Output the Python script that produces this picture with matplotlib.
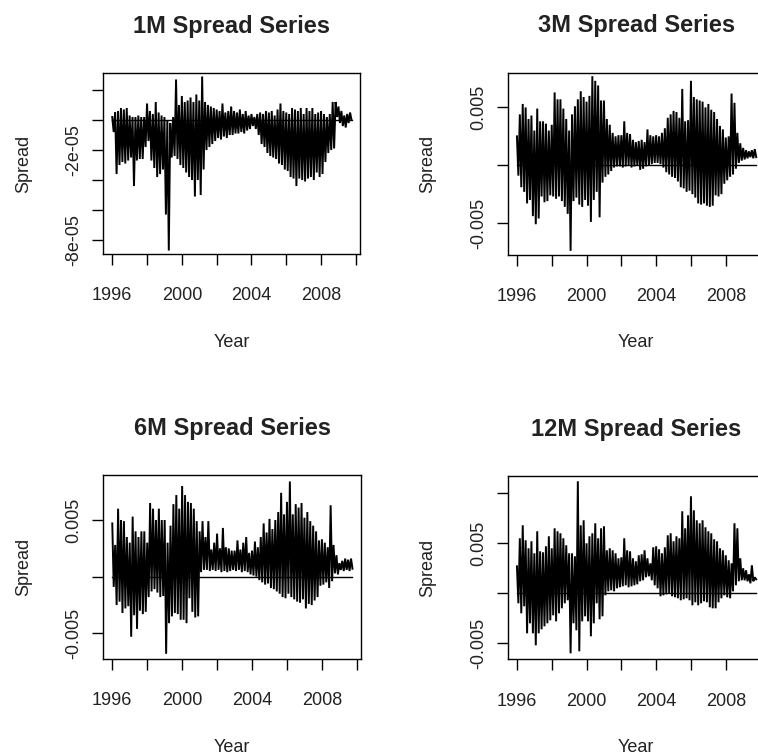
import numpy as np
import matplotlib.pyplot as plt

plt.rcParams['font.family'] = ['Liberation Sans', 'DejaVu Sans']
ink = '#222222'

# Spread series read off the picture as a bi-monthly envelope
# (high / low of each two-month block), Jan 1996 .. Sep 2009
start_year = 1996
year_ticks = [1996, 1998, 2000, 2002, 2004, 2006, 2008, 2010]
year_labels = ['1996', '', '2000', '', '2004', '', '2008', '']

# 1M, in units of 1e-05
hi_1m = [0.2, 0.5, 0.6, 0.8, 0.7, 0.8,
         0.3, 0.2, 0.2, 0.3, 0.2, 0.2,
         1.1, 0.6, 0.4, 1.2, 0.5, 0.3,
         0.2, 0.0, -0.2, 0.2, 2.7, 1.0,
         1.6, 1.2, 1.3, 1.5, 1.2, 1.7,
         1.3, 2.9, 1.2, 1.0, 0.9, 0.8,
         0.7, 0.6, 1.1, 0.5, 0.6, 0.9,
         0.6, 0.5, 0.7, 0.4, 0.6, 0.3,
         0.4, 0.2, 0.4, 0.5, 0.4, 0.6,
         0.5, 0.6, 0.3, 0.7, 1.1, 0.6,
         0.5, 0.4, 0.8, 0.7, 0.6, 0.8,
         0.4, 0.8, 0.6, 0.8, 0.4, 0.5,
         0.6, 0.4, 0.2, 0.4, 1.2, 1.2,
         0.9, 0.6, 0.3, 0.4, 0.5]
lo_1m = [-0.8, -3.6, -3.0, -2.8, -2.9, -2.7,
         -2.5, -4.4, -2.7, -2.6, -2.6, -1.8,
         -1.4, -2.7, -3.2, -3.8, -3.6, -3.3,
         -6.3, -8.7, -2.5, -2.4, -2.6, -3.0,
         -3.2, -3.5, -3.8, -4.0, -5.1, -4.0,
         -5.0, -3.3, -2.0, -1.8, -1.6, -1.4,
         -1.2, -1.3, -1.1, -1.2, -1.0, -1.0,
         -0.9, -0.9, -0.8, -0.9, -0.7, -0.6,
         -0.4, -0.6, -1.0, -1.6, -1.8, -2.2,
         -2.4, -2.5, -2.6, -2.9, -3.0, -3.3,
         -3.4, -3.8, -3.9, -4.4, -3.9, -4.0,
         -4.1, -3.9, -3.8, -4.0, -3.5, -3.8,
         -3.6, -2.8, -2.2, -2.0, -1.9, 0.2,
         -0.2, -0.4, -0.5, -0.2, 0.0]

# 3M, in units of 1e-03
hi_3m = [2.5, 4.4, 5.3, 5.0, 4.0, 4.3,
         3.0, 4.9, 3.8, 3.8, 3.6, 3.0,
         3.5, 6.3, 5.7, 5.7, 4.9, 4.0,
         3.0, 4.4, 5.1, 5.7, 6.4, 5.9,
         5.5, 6.0, 7.7, 7.3, 6.9, 5.6,
         5.6, 4.0, 3.5, 2.8, 2.5, 2.6,
         2.6, 3.8, 2.8, 2.7, 2.2, 2.0,
         2.1, 2.2, 2.0, 3.1, 2.6, 2.5,
         2.6, 2.5, 2.8, 3.2, 4.1, 4.4,
         4.7, 4.6, 4.1, 6.6, 3.8, 3.9,
         7.3, 5.9, 5.7, 5.6, 5.5, 5.0,
         5.3, 4.8, 4.6, 4.0, 3.4, 3.1,
         2.4, 2.5, 6.2, 5.4, 2.8, 1.9,
         1.5, 1.3, 1.2, 1.3, 1.4]
lo_3m = [-0.9, -1.9, -2.3, -3.3, -3.0, -4.4,
         -5.1, -4.6, -2.7, -3.2, -3.1, -2.6,
         -2.7, -2.9, -2.7, -3.1, -3.6, -4.2,
         -7.4, -3.1, -2.8, -3.4, -3.6, -3.0,
         -3.5, -4.9, -3.0, -2.3, -4.5, -1.5,
         -1.0, -0.8, -0.5, -0.2, -0.1, -0.1,
         -0.2, -0.1, 0.0, -0.2, -0.1, 0.0,
         -0.4, -0.3, -0.1, 0.0, 0.1, 0.2,
         0.2, 0.1, -0.2, -0.6, -0.8, -1.0,
         -1.1, -1.4, -1.9, -2.0, -2.3, -2.2,
         -2.5, -2.8, -3.3, -3.4, -3.3, -3.5,
         -3.6, -3.5, -2.6, -2.7, -2.5, -1.6,
         -1.3, -1.0, -0.8, -0.3, 0.2, 0.4,
         0.5, 0.6, 0.7, 0.6, 0.7]

# 6M, in units of 1e-03
hi_6m = [4.7, 2.8, 6.0, 5.0, 4.9, 3.5,
         3.0, 5.3, 4.0, 3.5, 4.0, 4.0,
         3.0, 6.5, 6.0, 5.0, 6.0, 5.0,
         5.0, 3.0, 4.5, 6.4, 7.2, 6.0,
         8.0, 7.2, 6.6, 6.5, 6.0, 4.9,
         4.0, 4.9, 3.5, 4.9, 2.4, 3.0,
         3.8, 2.5, 4.3, 2.6, 2.5, 2.3,
         2.3, 3.2, 2.4, 3.0, 3.5, 2.1,
         2.3, 3.1, 2.6, 3.5, 4.7, 3.9,
         5.1, 4.2, 5.0, 5.7, 7.4, 5.5,
         6.6, 8.4, 5.5, 6.4, 6.1, 6.5,
         5.2, 5.7, 4.9, 4.5, 4.0, 3.2,
         3.3, 3.0, 2.6, 6.3, 2.8, 1.9,
         1.2, 1.4, 1.6, 1.5, 1.6]
lo_6m = [-0.9, -2.5, -2.2, -3.2, -2.8, -2.6,
         -5.3, -3.4, -4.6, -3.0, -3.3, -3.1,
         -1.8, -1.3, -1.1, -1.4, -1.8, -1.7,
         -6.8, -4.1, -3.5, -3.2, -3.3, -3.8,
         -3.8, -4.1, -1.9, -3.1, -3.6, -3.5,
         0.4, 0.6, 0.6, 0.5, 0.6, 0.5,
         0.6, 0.4, 0.5, 0.4, 0.5, 0.6,
         0.5, 0.6, 0.4, 0.5, 0.4, 0.2,
         0.1, 0.0, -0.3, -0.5, -0.7, -0.6,
         -1.0, -1.1, -1.3, -1.5, -1.8, -1.9,
         -1.5, -1.8, -2.0, -2.2, -2.3, -2.0,
         -2.8, -2.4, -2.5, -2.1, -1.8, -0.8,
         -0.7, -0.5, -1.0, -0.4, 0.3, 0.2,
         0.6, 0.5, 0.6, 0.5, 0.7]

# 12M, in units of 1e-03
hi_12m = [2.7, 5.5, 6.8, 5.3, 4.5, 5.2,
          4.0, 6.2, 4.2, 4.1, 4.7, 5.7,
          4.5, 6.5, 6.2, 6.0, 5.5, 4.8,
          4.0, 4.0, 3.7, 11.2, 6.8, 7.3,
          5.0, 5.7, 6.0, 7.0, 5.5, 6.5,
          6.7, 4.3, 4.5, 4.3, 4.0, 3.5,
          3.6, 5.5, 4.3, 4.2, 3.5, 3.2,
          3.8, 3.9, 4.3, 3.5, 3.0, 4.6,
          4.7, 4.4, 4.0, 4.6, 5.8, 6.0,
          5.2, 5.7, 5.5, 8.2, 6.5, 7.8,
          9.7, 8.3, 7.3, 7.0, 7.3, 6.6,
          6.2, 6.0, 5.4, 5.2, 4.5, 4.3,
          3.8, 3.3, 3.0, 7.0, 6.5, 3.5,
          2.5, 2.3, 1.9, 2.8, 1.6]
lo_12m = [-1.0, -2.0, -1.3, -4.0, -3.0, -4.0,
          -5.2, -4.0, -3.6, -3.3, -3.0, -2.7,
          -2.2, -2.8, -2.0, -1.5, -1.0, -0.7,
          -6.0, -3.0, -3.7, -5.8, -2.8, -2.3,
          -2.8, -4.3, -3.0, -1.0, -2.6, -2.3,
          -0.2, 0.2, 0.3, 0.2, 0.5, 0.6,
          0.7, 0.8, 0.6, 0.7, 0.8, 0.9,
          1.2, 1.3, 1.6, 1.7, 1.3, 0.8,
          0.5, -0.3, -0.2, -0.1, 0.0, -0.3,
          -0.4, -0.5, -0.7, -0.6, -0.5, -0.7,
          -1.2, -0.9, -1.2, -1.0, -0.8, -0.9,
          -1.4, -1.5, -1.5, -0.9, -0.5, -0.2,
          -0.4, -0.5, 0.2, 0.8, 1.2, 1.3,
          1.3, 1.2, 1.0, 1.2, 1.4]


def draw_panel(ax, hi, lo, scale, title, ylim, yticks, ylabels):
    hi = np.asarray(hi) * scale
    lo = np.asarray(lo) * scale
    t = start_year + np.arange(len(hi)) / 6
    # zigzag between high and low of each block
    x = np.column_stack([t, t + 1 / 12]).ravel()
    y = np.column_stack([hi, lo]).ravel()
    ax.plot(x, y, color='black', lw=1.4, solid_joinstyle='miter')
    ax.plot([x[0], x[-1]], [0, 0], color='black', lw=1.0)

    ax.set_xlim(1995.47, 2010.24)
    ax.set_ylim(*ylim)
    ax.set_xticks(year_ticks)
    ax.set_xticklabels(year_labels)
    ax.set_yticks(yticks)
    ax.set_yticklabels(ylabels, rotation=90, va='center')
    ax.tick_params(direction='out', length=8, width=1, colors='black',
                   labelcolor=ink, labelsize=13)
    ax.tick_params(axis='x', pad=16)
    ax.tick_params(axis='y', pad=7)
    for s in ax.spines.values():
        s.set_linewidth(1.0)
    ax.set_title(title, fontsize=17, fontweight='bold', color=ink, pad=29)
    ax.set_xlabel('Year', fontsize=13, color=ink, labelpad=21)
    ax.set_ylabel('Spread', fontsize=13, color=ink, labelpad=24)


fig = plt.figure(figsize=(7.58, 7.56), dpi=100)
ax1 = fig.add_axes([0.1359, 0.6640, 0.3391, 0.2394])
ax2 = fig.add_axes([0.6698, 0.6627, 0.3391, 0.2411])
ax3 = fig.add_axes([0.1359, 0.1283, 0.3404, 0.2434])
ax4 = fig.add_axes([0.6698, 0.1279, 0.3391, 0.2425])

draw_panel(ax1, hi_1m, lo_1m, 1e-5, '1M Spread Series', (-8.93e-5, 3.13e-5),
           [2e-5, 0, -2e-5, -4e-5, -6e-5, -8e-5],
           ['', '', '-2e-05', '', '', '-8e-05'])
draw_panel(ax2, hi_3m, lo_3m, 1e-3, '3M Spread Series', (-0.00776, 0.0080),
           [-0.005, 0, 0.005], ['-0.005', '', '0.005'])
draw_panel(ax3, hi_6m, lo_6m, 1e-3, '6M Spread Series', (-0.00726, 0.00897),
           [-0.005, 0, 0.005], ['-0.005', '', '0.005'])
draw_panel(ax4, hi_12m, lo_12m, 1e-3, '12M Spread Series', (-0.0066, 0.01173),
           [-0.005, 0, 0.005, 0.01], ['-0.005', '', '0.005', ''])

fig.savefig('out.png', dpi=100)
